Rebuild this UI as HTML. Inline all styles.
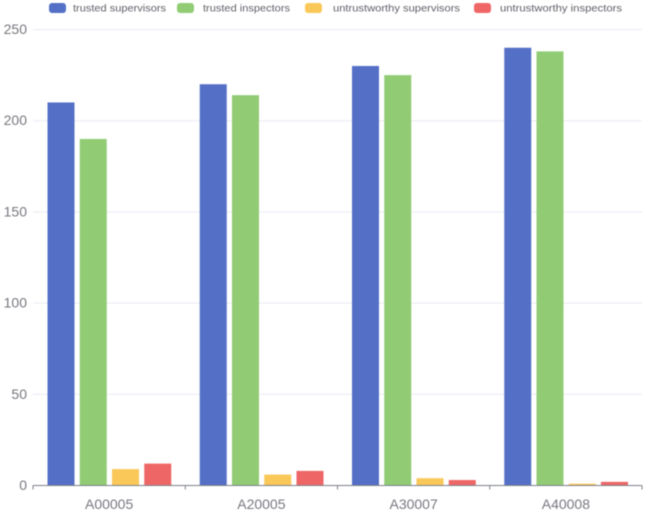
<!DOCTYPE html>
<html>
<head>
<meta charset="utf-8">
<style>
html,body{margin:0;padding:0;background:#fff;width:645px;height:512px;overflow:hidden}
svg{display:block;filter:blur(0.45px)}
text{font-family:"Liberation Sans",sans-serif}
</style>
</head>
<body>
<svg id="chart" width="645" height="512" viewBox="0 0 645 512" xmlns="http://www.w3.org/2000/svg"></svg>
<script>
const categories = ["A00005", "A20005", "A30007", "A40008"];
const seriesNames = ["trusted supervisors", "trusted inspectors", "untrustworthy supervisors", "untrustworthy inspectors"];
const trustedSupervisors = [210, 220, 230, 240];
const trustedInspectors = [190, 214, 225, 238];
const untrustworthySupervisors = [9, 6, 4, 1];
const untrustworthyInspectors = [12, 8, 3, 2];
const yTicks = [0, 50, 100, 150, 200, 250];

const seriesValues = [trustedSupervisors, trustedInspectors, untrustworthySupervisors, untrustworthyInspectors];
const colors = ["#5470c6", "#91cc75", "#fac858", "#ee6666"];
const legendRectX = [49, 177, 305, 474];
const legendTextX = [73, 203, 333, 500];
const legendTextW = [93, 87, 127, 122];

const svg = document.getElementById("chart");
const NS = "http://www.w3.org/2000/svg";
const plotLeft = 33, plotRight = 642, plotTop = 29.5, plotBottom = 485.5, yMax = 250;
const yScale = v => plotBottom - (v / yMax) * (plotBottom - plotTop);
const bandWidth = (plotRight - plotLeft) / categories.length;
const xBand = i => plotLeft + i * bandWidth;
const barWidth = 27, barStep = 32.25, barOffset = 14.5;

function make(tag, attrs, text) {
  const el = document.createElementNS(NS, tag);
  for (const k in attrs) el.setAttribute(k, attrs[k]);
  if (text !== undefined) el.textContent = text;
  svg.appendChild(el);
  return el;
}

yTicks.forEach(t => {
  if (t !== 0) {
    const g = make("line", {x1: plotLeft, x2: plotRight, y1: yScale(t), y2: yScale(t), stroke: "#e9ebf3", "stroke-width": 1});
    
    
  }
  const l = make("text", {x: 27, y: yScale(t) + 4.5, "text-anchor": "end", "font-size": 14, fill: "#77787f"}, String(t));
  
  
});

seriesValues.forEach((vals, s) => {
  vals.forEach((v, i) => {
    const y = yScale(v);
    const r = make("rect", {x: xBand(i) + barOffset + s * barStep, y: y, width: barWidth, height: plotBottom - y, fill: colors[s]});
    
    
  });
});

const axis = make("line", {x1: plotLeft, x2: plotRight, y1: plotBottom, y2: plotBottom, stroke: "#7d808a", "stroke-width": 1});



for (let i = 0; i <= categories.length; i++) {
  const tick = make("line", {x1: xBand(i), x2: xBand(i), y1: plotBottom, y2: plotBottom + 4, stroke: "#7d808a", "stroke-width": 1});
  
  
}

categories.forEach((c, i) => {
  const l = make("text", {x: xBand(i) + bandWidth / 2, y: 509, "text-anchor": "middle", "font-size": 14, fill: "#77787f"}, c);
  
  
});

seriesNames.forEach((n, s) => {
  const r = make("rect", {x: legendRectX[s], y: 3, width: 17, height: 10, rx: 3, ry: 3, fill: colors[s]});
  
  
  const t = make("text", {x: legendTextX[s], y: 11.5, "font-size": 10.5, fill: "#5f6068", textLength: legendTextW[s], lengthAdjust: "spacingAndGlyphs"}, n);
  
  
});
</script>
</body>
</html>
